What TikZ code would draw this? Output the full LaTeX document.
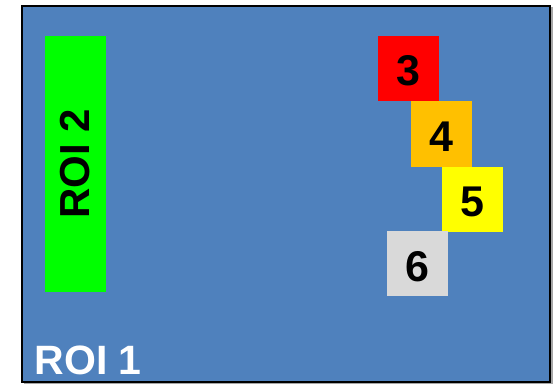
\documentclass[tikz,border=0pt]{standalone}
\usepackage{fontspec}
\setmainfont{Liberation Sans}
\definecolor{roiblue}{HTML}{4F81BD}
\definecolor{roigreen}{HTML}{00FF00}
\definecolor{boxred}{HTML}{FF0000}
\definecolor{boxorange}{HTML}{FFC000}
\definecolor{boxyellow}{HTML}{FFFF00}
\definecolor{boxgray}{HTML}{D9D9D9}

\begin{document}
\begin{tikzpicture}[x=1pt, y=-1pt,
    numbox/.style={rectangle, inner sep=0pt, minimum width=61pt, minimum height=65pt,
        text height=35pt, text depth=0pt,
        font=\fontsize{43}{43}\selectfont\bfseries, text=black}]
        \useasboundingbox (0, 0) rectangle (554, 385);

        % outer region with shadow
        \fill[gray!70] (23.5, 7.5) rectangle (552.5, 384);
        \draw[fill=roiblue, line width=2pt] (22, 6) rectangle (550, 382);
        \node (roione) at (34.5, 374) [anchor=base west, inner sep=0pt, text=white,
            font=\fontsize{41}{41}\selectfont\bfseries] {ROI 1};

        % inner region
        \node (roitwo) at (75.5, 164) [rectangle, fill=roigreen, inner sep=0pt,
            minimum width=61pt, minimum height=256pt] {};
        \node at (roitwo.center) [rotate=90, font=\fontsize{42}{42}\selectfont\bfseries] {ROI 2};

        % numbered boxes
        \node (three) at (408.5, 68.5) [numbox, fill=boxred] {3};
        \node (four) at (441.5, 134) [numbox, fill=boxorange] {4};
        \node (five) at (472.5, 199) [numbox, fill=boxyellow] {5};
        \node (six) at (417.5, 263.5) [numbox, fill=boxgray] {6};
    \end{tikzpicture}
\end{document}
